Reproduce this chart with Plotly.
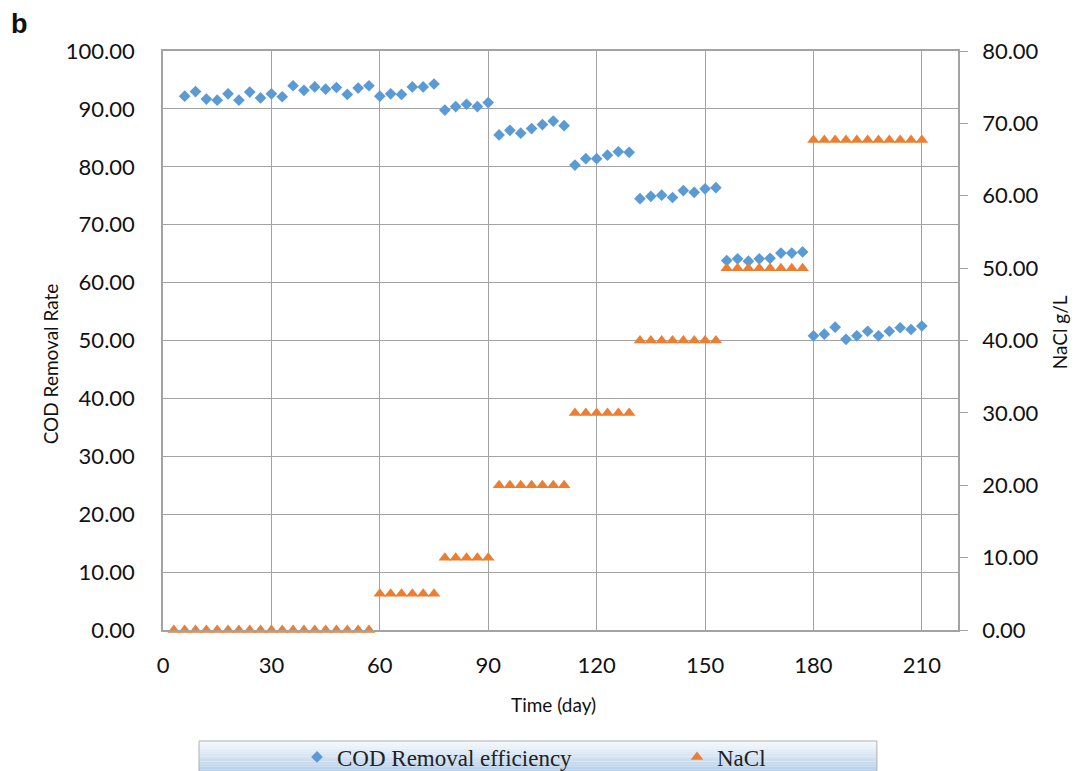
import plotly.graph_objects as go
from plotly.subplots import make_subplots

# COD removal (left axis, %) - day of reading and value
cod_days = [6, 9, 12, 15, 18, 21, 24, 27, 30, 33, 36, 39, 42, 45, 48, 51, 54, 57,
            60, 63, 66, 69, 72, 75,
            78, 81, 84, 87, 90,
            93, 96, 99, 102, 105, 108, 111,
            114, 117, 120, 123, 126, 129,
            132, 135, 138, 141, 144, 147, 150, 153,
            156, 159, 162, 165, 168, 171, 174, 177,
            180, 183, 186, 189, 192, 195, 198, 201, 204, 207, 210]
cod_values = [92.2, 93.0, 91.7, 91.5, 92.6, 91.5, 92.9, 91.9, 92.6, 92.1, 94.0, 93.2, 93.8, 93.4, 93.7, 92.5, 93.6, 94.0,
              92.2, 92.6, 92.5, 93.8, 93.8, 94.3,
              89.8, 90.4, 90.8, 90.4, 91.1,
              85.5, 86.3, 85.8, 86.6, 87.3, 87.9, 87.1,
              80.3, 81.4, 81.4, 82.0, 82.6, 82.5,
              74.5, 74.9, 75.1, 74.7, 75.9, 75.6, 76.2, 76.4,
              63.8, 64.1, 63.7, 64.1, 64.2, 65.1, 65.1, 65.3,
              50.8, 51.1, 52.3, 50.2, 50.8, 51.6, 50.8, 51.6, 52.2, 51.9, 52.5]

# NaCl concentration (right axis, g/L)
nacl_days = [3, 6, 9, 12, 15, 18, 21, 24, 27, 30, 33, 36, 39, 42, 45, 48, 51, 54, 57,
             60, 63, 66, 69, 72, 75,
             78, 81, 84, 87, 90,
             93, 96, 99, 102, 105, 108, 111,
             114, 117, 120, 123, 126, 129,
             132, 135, 138, 141, 144, 147, 150, 153,
             156, 159, 162, 165, 168, 171, 174, 177,
             180, 183, 186, 189, 192, 195, 198, 201, 204, 207, 210]
nacl_values = [0] * 19 + [5] * 6 + [10] * 5 + [20] * 7 + [30] * 6 + [40] * 8 + [50] * 8 + [67.7] * 11

x_ticks = [0, 30, 60, 90, 120, 150, 180, 210]
left_ticks = [0, 10, 20, 30, 40, 50, 60, 70, 80, 90, 100]
right_ticks = [0, 10, 20, 30, 40, 50, 60, 70, 80]

blue = '#5B9BD5'
orange = '#ED7D31'
grid = '#a3a3a3'
tickfont = dict(family='Lato', size=22, color='#111111')
titlefont = dict(family='Lato', size=19, color='#111111')

# the page body has an 8px margin, so the figure is 8px smaller than the window
W, H = 1071, 763

fig = make_subplots(specs=[[{"secondary_y": True}]])

fig.add_trace(go.Scatter(x=cod_days, y=cod_values, mode='markers', name='COD Removal efficiency',
                         marker=dict(symbol='diamond', size=9, color=blue), cliponaxis=False,
                         legend='legend'),
              secondary_y=False)
fig.add_trace(go.Scatter(x=nacl_days, y=nacl_values, mode='markers', name='NaCl',
                         marker=dict(symbol='triangle-up', size=11, color=orange), cliponaxis=False,
                         legend='legend2'),
              secondary_y=True)

fig.update_xaxes(domain=[0, 1], range=[0, 220], tickvals=x_ticks, ticktext=[str(t) for t in x_ticks],
                 showgrid=True, gridcolor=grid, gridwidth=1.3, zeroline=False,
                 showline=True, linecolor=grid, linewidth=1.5, mirror=True, automargin=False,
                 ticks='', tickfont=tickfont, ticklabelstandoff=15)
fig.update_yaxes(range=[0, 100], tickvals=left_ticks, ticktext=['%.2f' % t for t in left_ticks],
                 showgrid=True, gridcolor=grid, gridwidth=1.3, zeroline=False,
                 showline=True, linecolor=grid, linewidth=1.5, automargin=False,
                 ticks='', tickfont=tickfont, ticklabelstandoff=22, secondary_y=False)
fig.update_yaxes(range=[0, 80], tickvals=right_ticks, ticktext=['%.2f' % t for t in right_ticks],
                 showgrid=False, zeroline=False, automargin=False,
                 showline=True, linecolor=grid, linewidth=1.5,
                 ticks='outside', ticklen=8, tickcolor=grid, tickwidth=1.3,
                 tickfont=tickfont, ticklabelstandoff=10, secondary_y=True)

# legend background: light blue vertical gradient made of thin bands
top_rgb = (244, 248, 252)
bot_rgb = (184, 208, 234)
y_top, y_bot = -0.1917, -0.245
n = 12
for i in range(n):
    f = i / (n - 1)
    c = tuple(int(top_rgb[k] + (bot_rgb[k] - top_rgb[k]) * f) for k in range(3))
    y0 = y_top + (y_bot - y_top) * i / n
    y1 = y_top + (y_bot - y_top) * (i + 1) / n
    fig.add_shape(type='rect', xref='paper', yref='paper', x0=0.0453, x1=0.898, y0=y0, y1=y1,
                  line=dict(width=0), fillcolor='rgb(%d,%d,%d)' % c, layer='below')
fig.add_shape(type='rect', xref='paper', yref='paper', x0=0.0453, x1=0.898, y0=y_top, y1=y_bot,
              line=dict(width=1, color='#b0b0b0'), fillcolor='rgba(0,0,0,0)', layer='below')

annotations = [
    dict(text='<b>b</b>', x=-0.181, y=1.047, font=dict(family='Liberation Sans', size=27, color='#111111')),
    dict(text='COD Removal Rate', x=-0.142, y=0.459, textangle=-90, font=titlefont),
    dict(text='NaCl g/L', x=1.128, y=0.514, textangle=-90, font=titlefont),
    dict(text='Time (day)', x=0.4906, y=-0.1295, font=titlefont),
]
for a in annotations:
    fig.add_annotation(xref='paper', yref='paper', showarrow=False, xanchor='center', yanchor='middle', **a)

legend_style = dict(xref='container', yref='container', y=1 - (757 - 8) / H, xanchor='left', yanchor='middle',
                    bgcolor='rgba(0,0,0,0)', borderwidth=0,
                    font=dict(family='Liberation Serif', size=23, color='#222222'), itemsizing='trace')

fig.update_layout(
    width=W, height=H, autosize=False,
    margin=dict(l=155, r=121, t=43, b=141, autoexpand=False),
    plot_bgcolor='white', paper_bgcolor='white',
    showlegend=True,
    legend=dict(x=(297 - 8) / W, **legend_style),
    legend2=dict(x=(677 - 8) / W, **legend_style),
)

fig.write_html("out.html")
